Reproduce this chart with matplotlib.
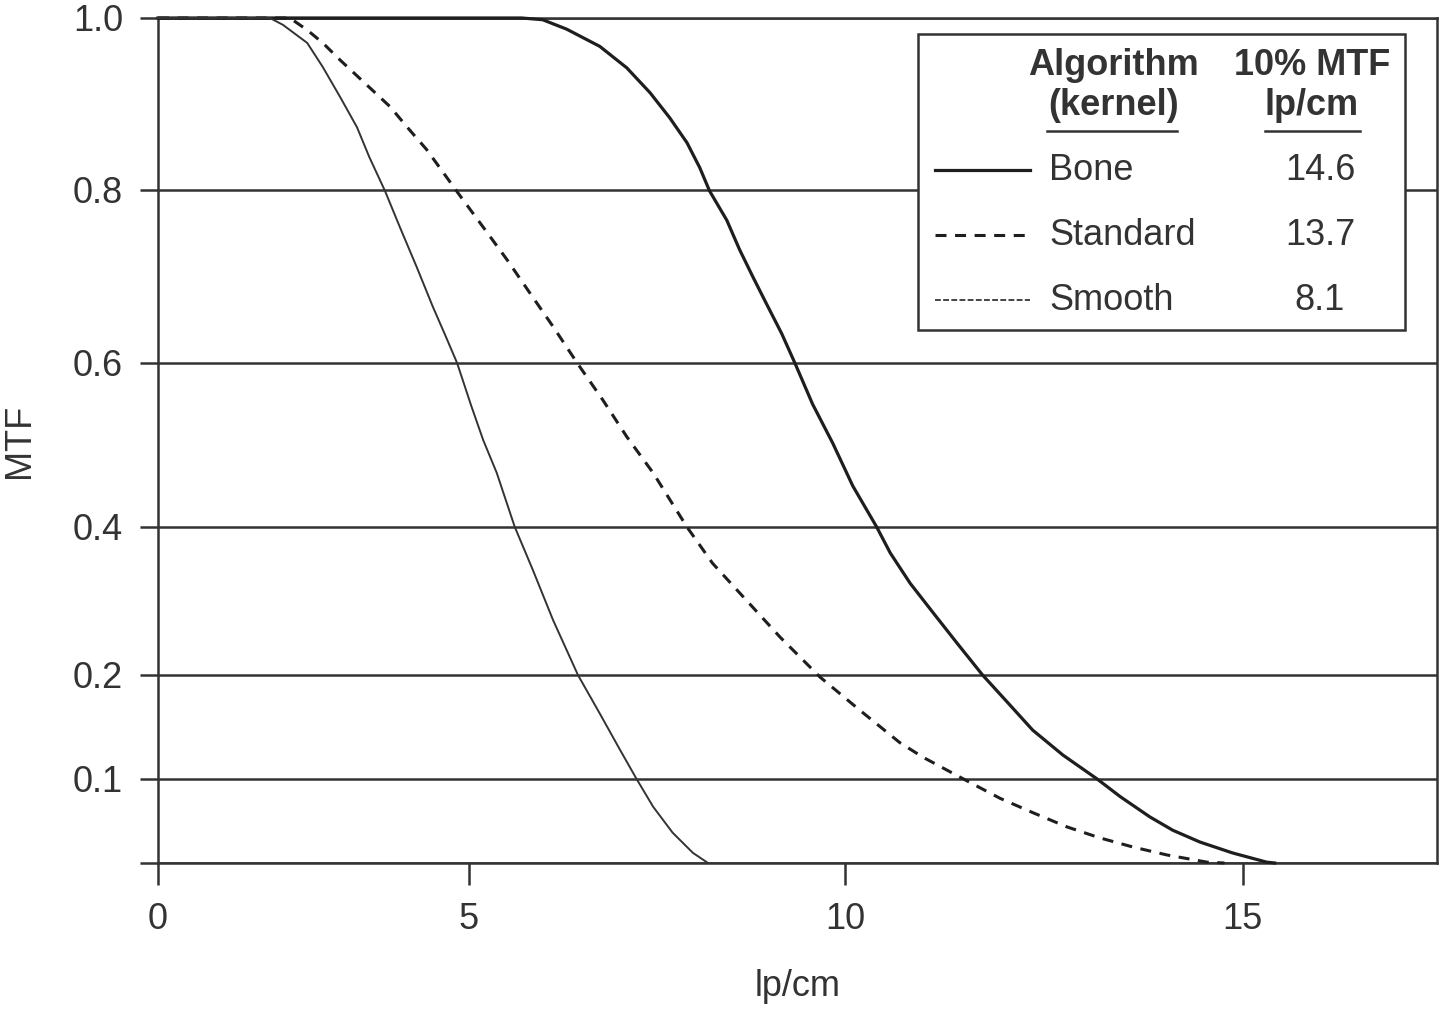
import numpy as np
import matplotlib
matplotlib.use('Agg')
import matplotlib.pyplot as plt
from matplotlib.patches import Rectangle

plt.rcParams['font.family'] = ['Liberation Sans', 'DejaVu Sans']

# MTF curves (x in lp/cm, y in MTF)
bone_x = [0, 5.70, 5.98, 6.30, 6.74, 7.10, 7.41, 7.67, 7.90, 8.07, 8.20,
          8.43, 8.60, 8.78, 8.96, 9.16, 9.34, 9.57, 9.84, 10.10, 10.40, 10.57,
          10.82, 11.11, 11.41, 11.73, 12.04, 12.36, 12.74, 13.17, 13.46, 13.83,
          14.12, 14.46, 14.87, 15.30, 15.40]
bone_y = [1.0, 1.0, 0.998, 0.987, 0.967, 0.942, 0.913, 0.884, 0.855, 0.826,
          0.799, 0.765, 0.731, 0.699, 0.668, 0.634, 0.599, 0.550, 0.502, 0.450,
          0.400, 0.365, 0.324, 0.284, 0.243, 0.200, 0.174, 0.147, 0.123, 0.100,
          0.079, 0.055, 0.039, 0.025, 0.012, 0.001, 0.0]

standard_x = [0, 2.12, 2.40, 2.65, 2.93, 3.33, 3.73, 4.02, 4.32, 4.82, 5.19,
              5.51, 5.81, 6.12, 6.44, 6.78, 7.10, 7.45, 7.90, 8.24, 8.60, 9.14,
              9.67, 10.19, 10.69, 10.98, 11.51, 11.95, 12.36, 12.79, 13.20,
              13.62, 14.05, 14.55, 14.77]
standard_y = [1.0, 1.0, 0.986, 0.971, 0.951, 0.924, 0.897, 0.872, 0.847,
              0.797, 0.757, 0.719, 0.681, 0.642, 0.600, 0.555, 0.510, 0.466,
              0.400, 0.351, 0.311, 0.251, 0.198, 0.166, 0.135, 0.121, 0.099,
              0.077, 0.060, 0.043, 0.030, 0.019, 0.0095, 0.001, 0.0]

smooth_x = [0, 1.80, 2.01, 2.40, 2.65, 2.93, 3.20, 3.40, 3.65, 3.89, 4.16,
            4.42, 4.62, 4.81, 5.03, 5.19, 5.37, 5.61, 5.85, 6.12, 6.45, 6.74,
            7.01, 7.23, 7.45, 7.71, 7.98, 8.18]
smooth_y = [1.0, 1.0, 0.992, 0.971, 0.943, 0.908, 0.873, 0.838, 0.799, 0.757,
            0.711, 0.665, 0.632, 0.600, 0.548, 0.506, 0.466, 0.400, 0.342,
            0.274, 0.200, 0.163, 0.128, 0.100, 0.067, 0.036, 0.012, 0.0]

kernels = ['Bone', 'Standard', 'Smooth']
mtf10 = ['14.6', '13.7', '8.1']

x_ticks = [0, 5, 10, 15]
y_ticks = [0, 0.1, 0.2, 0.4, 0.6, 0.8, 1.0]
y_ticklabels = ['', '0.1', '0.2', '0.4', '0.6', '0.8', '1.0']

# the original axes are not evenly spaced: spacing of the ticks on the page
x_tick_spacing = [0, 311, 687, 1085]
y_tick_spacing = [0, 84, 188, 336, 500, 673, 845]


def piecewise(ticks, spacing):
    t = np.asarray(ticks, float)
    p = np.asarray(spacing, float)
    t = np.r_[t[0] - 100 * (t[1] - t[0]), t, t[-1] + 100 * (t[-1] - t[-2])]
    p = np.r_[p[0] - 100 * (p[1] - p[0]), p, p[-1] + 100 * (p[-1] - p[-2])]
    return (lambda v: np.interp(v, t, p)), (lambda v: np.interp(v, p, t))


ink = '#333333'
fs = 26
plot_styles = {
    'Bone': dict(color='#1e1e1e', lw=2.3, linestyle='-'),
    'Standard': dict(color='#1e1e1e', lw=2.2, dashes=(3.6, 2.8)),
    'Smooth': dict(color='#333333', lw=1.4, linestyle='-'),
}
key_styles = dict(plot_styles)
key_styles['Smooth'] = dict(color='#444444', lw=1.4, dashes=(3, 1.2))

fig = plt.figure(figsize=(14.4, 10.16), dpi=100)
ax = fig.add_axes([0.1097, 0.1506, 0.8882, 0.8317])
ax.set_xscale('function', functions=piecewise(x_ticks, x_tick_spacing))
ax.set_yscale('function', functions=piecewise(y_ticks, y_tick_spacing))
ax.set_xlim(0, 17.44)
ax.set_ylim(0, 1.0)

ax.set_xticks(x_ticks)
ax.set_yticks(y_ticks)
ax.set_yticklabels(y_ticklabels)
ax.minorticks_off()
ax.yaxis.grid(True, color=ink, lw=1.8)
ax.set_axisbelow(True)

ax.tick_params(axis='both', direction='out', color=ink, width=1.8,
               labelsize=fs, labelcolor=ink, pad=12)
ax.tick_params(axis='y', length=13)
ax.tick_params(axis='x', length=16)
for s in ax.spines.values():
    s.set_color(ink)
    s.set_linewidth(1.8)

for name, xs, ys in [('Bone', bone_x, bone_y),
                     ('Standard', standard_x, standard_y),
                     ('Smooth', smooth_x, smooth_y)]:
    ax.plot(xs, ys, clip_on=False, zorder=3, solid_joinstyle='round',
            **plot_styles[name])

ax.set_xlabel('lp/cm', fontsize=fs, color=ink)
ax.xaxis.label.set_va('center')
ax.xaxis.set_label_coords(0.5, -0.1456)
ax.set_ylabel('MTF', fontsize=fs, color=ink)
ax.yaxis.label.set_va('center')
ax.yaxis.set_label_coords(-0.108, 0.5)

# table-like legend in the upper right
tr = ax.transAxes
ax.add_patch(Rectangle((0.594, 0.631), 0.381, 0.350, transform=tr,
                       facecolor='white', edgecolor=ink, lw=1.8, zorder=5))
hdr = dict(transform=tr, fontsize=fs, weight='bold', color=ink,
           ha='center', va='center', zorder=6)
ax.text(0.747, 0.944, 'Algorithm', **hdr)
ax.text(0.747, 0.897, '(kernel)', **hdr)
ax.text(0.902, 0.944, '10% MTF', **hdr)
ax.text(0.902, 0.897, 'lp/cm', **hdr)
ax.plot([0.695, 0.797], [0.866, 0.866], transform=tr, color=ink, lw=1.8,
        zorder=6, clip_on=False)
ax.plot([0.8655, 0.9398], [0.866, 0.866], transform=tr, color=ink, lw=1.8,
        zorder=6, clip_on=False)

row_y = [0.820, 0.743, 0.666]
for name, val, ry in zip(kernels, mtf10, row_y):
    ax.plot([0.6075, 0.682], [ry, ry], transform=tr, zorder=6, clip_on=False,
            **key_styles[name])
    ax.text(0.697, ry, name, transform=tr, fontsize=fs, color=ink,
            ha='left', va='center', zorder=6)
    ax.text(0.9085, ry, val, transform=tr, fontsize=fs, color=ink,
            ha='center', va='center', zorder=6)

fig.savefig('out.png', dpi=100, facecolor='white')
